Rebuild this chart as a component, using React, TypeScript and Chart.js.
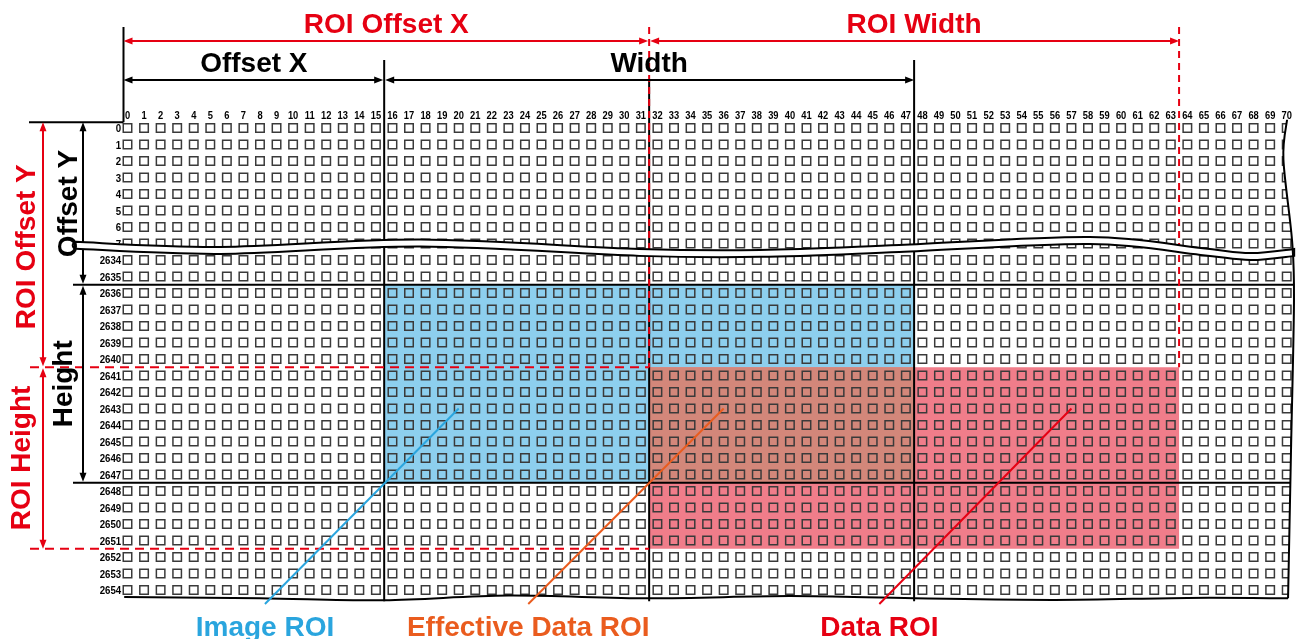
import React, { useEffect, useRef } from 'react';
import { Chart, registerables } from 'chart.js';

Chart.register(...registerables);

// ---- data ----
const columnLabels = [
  0, 1, 2, 3, 4, 5, 6, 7, 8, 9, 10, 11, 12, 13, 14, 15, 16, 17, 18, 19, 20,
  21, 22, 23, 24, 25, 26, 27, 28, 29, 30, 31, 32, 33, 34, 35, 36, 37, 38, 39,
  40, 41, 42, 43, 44, 45, 46, 47, 48, 49, 50, 51, 52, 53, 54, 55, 56, 57, 58,
  59, 60, 61, 62, 63, 64, 65, 66, 67, 68, 69, 70,
];
const rowLabels = [
  '0', '1', '2', '3', '4', '5', '6', '7',
  '2634', '2635', '2636', '2637', '2638', '2639', '2640', '2641', '2642',
  '2643', '2644', '2645', '2646', '2647', '2648', '2649', '2650', '2651',
  '2652', '2653', '2654',
];

const imageRoiCols = [16, 47];
const imageRoiRows = ['2636', '2647'];
const dataRoiCols = [32, 63];
const dataRoiRows = ['2641', '2651'];

const offsetXCols = [0, 15];
const widthCols = [16, 47];
const roiOffsetXCols = [0, 31];
const roiWidthCols = [32, 63];
const offsetYRows = ['0', '2635'];
const heightRows = ['2636', '2647'];
const roiOffsetYRows = ['0', '2640'];
const roiHeightRows = ['2641', '2651'];

const calloutLabels = ['Image ROI', 'Effective Data ROI', 'Data ROI'];
const calloutColors = ['#2aa5de', '#ea5c1e', '#e60012'];
const calloutAnchorCols = [20, 36, 57];
const calloutAnchorRow = '2643';
const calloutLabelCols = [8.3, 24.2, 45.4];

const RED = '#e60012';
const BIG_FONT = "bold 28px 'Liberation Sans', Arial, sans-serif";
const TICK_FONT = "bold 11px 'Liberation Sans', Arial, sans-serif";

// decorative break / torn edges (column units, row units)
const breakUpper = [
  [-3.1, 6.9], [5.6, 7.21], [17.7, 6.76], [30.9, 7.33], [38.2, 7.39],
  [46.6, 7.09], [58.1, 6.61], [64.8, 7.27], [67.8, 7.58], [70.45, 7.33],
];
const rightEdge = [
  [70.02, -0.5], [69.8, 1.9], [70.32, 6.8], [70.44, 10.4], [70.26, 19.5], [70.08, 28.5],
];
const bottomEdge = [
  [-0.2, 28.42], [8, 28.5], [15.5, 28.62], [23, 28.34], [31.5, 28.5],
  [40, 28.37], [47.5, 28.5], [56, 28.6], [64, 28.48], [70.08, 28.5],
];

function curve(ctx: CanvasRenderingContext2D, pts: { x: number; y: number }[], move = true) {
  if (move) ctx.moveTo(pts[0].x, pts[0].y);
  else ctx.lineTo(pts[0].x, pts[0].y);
  for (let i = 0; i < pts.length - 1; i++) {
    const p0 = pts[i - 1] || pts[i];
    const p1 = pts[i];
    const p2 = pts[i + 1];
    const p3 = pts[i + 2] || p2;
    ctx.bezierCurveTo(
      p1.x + (p2.x - p0.x) / 6, p1.y + (p2.y - p0.y) / 6,
      p2.x - (p3.x - p1.x) / 6, p2.y - (p3.y - p1.y) / 6,
      p2.x, p2.y,
    );
  }
}

function arrow(ctx: CanvasRenderingContext2D, x1: number, y1: number, x2: number, y2: number, color: string) {
  const len = 9;
  const hw = 3.5;
  const ang = Math.atan2(y2 - y1, x2 - x1);
  ctx.save();
  ctx.strokeStyle = color;
  ctx.fillStyle = color;
  ctx.lineWidth = 2;
  ctx.beginPath();
  ctx.moveTo(x1 + Math.cos(ang) * 4, y1 + Math.sin(ang) * 4);
  ctx.lineTo(x2 - Math.cos(ang) * 4, y2 - Math.sin(ang) * 4);
  ctx.stroke();
  const head = (x: number, y: number, a: number) => {
    ctx.beginPath();
    ctx.moveTo(x, y);
    ctx.lineTo(x - Math.cos(a) * len - Math.sin(a) * hw, y - Math.sin(a) * len + Math.cos(a) * hw);
    ctx.lineTo(x - Math.cos(a) * len + Math.sin(a) * hw, y - Math.sin(a) * len - Math.cos(a) * hw);
    ctx.closePath();
    ctx.fill();
  };
  head(x2, y2, ang);
  head(x1, y1, ang + Math.PI);
  ctx.restore();
}

function line(ctx: CanvasRenderingContext2D, x1: number, y1: number, x2: number, y2: number, color: string, w: number, dash: number[] = []) {
  ctx.save();
  ctx.strokeStyle = color;
  ctx.lineWidth = w;
  ctx.setLineDash(dash);
  ctx.beginPath();
  ctx.moveTo(x1, y1);
  ctx.lineTo(x2, y2);
  ctx.stroke();
  ctx.restore();
}

function vText(ctx: CanvasRenderingContext2D, text: string, baseX: number, cy: number, color: string) {
  ctx.save();
  ctx.translate(baseX, cy);
  ctx.rotate(-Math.PI / 2);
  ctx.font = BIG_FONT;
  ctx.fillStyle = color;
  ctx.textAlign = 'center';
  ctx.textBaseline = 'alphabetic';
  ctx.fillText(text, 0, 0);
  ctx.restore();
}

function hText(ctx: CanvasRenderingContext2D, text: string, cx: number, baseY: number, color: string) {
  ctx.save();
  ctx.font = BIG_FONT;
  ctx.fillStyle = color;
  ctx.textAlign = 'center';
  ctx.textBaseline = 'alphabetic';
  ctx.fillText(text, cx, baseY);
  ctx.restore();
}

function narrowText(ctx: CanvasRenderingContext2D, text: string, x: number, y: number, align: CanvasTextAlign, sx: number) {
  ctx.save();
  ctx.translate(x, y);
  ctx.scale(sx, 1);
  ctx.font = TICK_FONT;
  ctx.fillStyle = '#000';
  ctx.textAlign = align;
  ctx.textBaseline = 'alphabetic';
  ctx.fillText(text, 0, 0);
  ctx.restore();
}

const ri = (lab: string) => rowLabels.indexOf(lab);

const diagramPlugin = {
  id: 'roiDiagram',
  beforeDatasetsDraw(chart: any) {
    const ctx: CanvasRenderingContext2D = chart.ctx;
    const X = (c: number) => chart.scales.x.getPixelForValue(c);
    const Y = (r: number) => chart.scales.y.getPixelForValue(r);
    const rect = (cols: number[], r0: number, r1: number, color: string) => {
      const x0 = X(cols[0] - 0.5);
      const x1 = X(cols[1] + 0.5);
      const y0 = Y(r0 - 0.5);
      const y1 = Y(r1 + 0.5);
      ctx.fillStyle = color;
      ctx.fillRect(x0, y0, x1 - x0, y1 - y0);
    };
    ctx.save();
    rect(imageRoiCols, ri(imageRoiRows[0]), ri(imageRoiRows[1]), '#8dcfee');
    rect(dataRoiCols, ri(dataRoiRows[0]), ri(dataRoiRows[1]), '#f07d8a');
    rect([dataRoiCols[0], imageRoiCols[1]], ri(dataRoiRows[0]), ri(imageRoiRows[1]), '#d3877a');
    ctx.restore();
  },
  afterDatasetsDraw(chart: any) {
    const ctx: CanvasRenderingContext2D = chart.ctx;
    const X = (c: number) => chart.scales.x.getPixelForValue(c);
    const Y = (r: number) => chart.scales.y.getPixelForValue(r);
    const P = (a: number[]) => ({ x: X(a[0]), y: Y(a[1]) });
    const W = chart.width;
    const H = chart.height;
    const area = chart.chartArea;

    // tick labels (column numbers on top, row numbers on the left)
    columnLabels.forEach((c) => narrowText(ctx, String(c), X(c), area.top - 0.5, 'center', 0.85));
    rowLabels.forEach((lab, r) => narrowText(ctx, lab, area.left - 0.5, Y(r) + 4, 'right', 0.88));

    const leftEdge = X(offsetXCols[0]) - 4;
    const topEdge = Y(ri(offsetYRows[0])) - 5.8;
    const rightPts = rightEdge.map(P);
    const bottomPts = bottomEdge.map(P);

    // full-width horizontal separators
    const hTop = Y(ri(heightRows[0]) - 0.5);
    const hBot = Y(ri(heightRows[1]) + 0.5);
    line(ctx, 73, hTop, W, hTop, '#000', 2);
    line(ctx, 73, hBot, W, hBot, '#000', 2);

    // masks for torn edges
    ctx.save();
    ctx.fillStyle = '#fff';
    ctx.beginPath();
    curve(ctx, rightPts);
    ctx.lineTo(W, rightPts[rightPts.length - 1].y);
    ctx.lineTo(W, rightPts[0].y);
    ctx.closePath();
    ctx.fill();
    ctx.beginPath();
    curve(ctx, bottomPts);
    ctx.lineTo(W, bottomPts[bottomPts.length - 1].y);
    ctx.lineTo(W, H);
    ctx.lineTo(bottomPts[0].x, H);
    ctx.closePath();
    ctx.fill();
    ctx.restore();

    // vertical separators
    const xW0 = X(widthCols[0] - 0.5);
    const xW1 = X(widthCols[1] + 0.5);
    const xR0 = X(roiWidthCols[0] - 0.5);
    const xR1 = X(roiWidthCols[1] + 0.5);
    const gridBottom = Y(rowLabels.length - 0.5);
    line(ctx, xW0, 60, xW0, gridBottom + 3, '#000', 2);
    line(ctx, xW1, 60, xW1, gridBottom + 3, '#000', 2);
    line(ctx, xR0, 80, xR0, gridBottom + 3, '#000', 2);

    // red dashed guides
    const yR0 = Y(ri(roiHeightRows[0]) - 0.5);
    const yR1 = Y(ri(roiHeightRows[1]) + 0.5);
    line(ctx, xR0, 27, xR0, yR0, RED, 2, [7, 5]);
    line(ctx, xR1, 27, xR1, yR0, RED, 2, [7, 5]);
    line(ctx, 30, yR0, xR0, yR0, RED, 2, [9, 6]);
    line(ctx, 30, yR1, xR0, yR1, RED, 2, [9, 6]);

    // top-left bracket
    line(ctx, leftEdge, 27, leftEdge, topEdge, '#000', 2);
    line(ctx, 29, topEdge, leftEdge, topEdge, '#000', 2);

    // left arrows
    const yOff = Y(ri(offsetYRows[1]) + 0.5);
    arrow(ctx, 43, topEdge, 43, Y(ri(roiOffsetYRows[1]) + 0.5) - 1, RED);
    arrow(ctx, 43, yR0 + 1, 43, yR1, RED);
    arrow(ctx, 83, topEdge, 83, yOff - 1, '#000');
    arrow(ctx, 83, hTop + 1, 83, hBot - 1, '#000');

    // break band
    const up = breakUpper.map(P);
    const lo = breakUpper.map((a) => P([a[0], a[1] + 0.42])).reverse();
    ctx.save();
    ctx.beginPath();
    curve(ctx, up);
    curve(ctx, lo, false);
    const r = (lo[lo.length - 1].y - up[0].y) / 2;
    ctx.arc(up[0].x, up[0].y + r, r, Math.PI / 2, (3 * Math.PI) / 2);
    ctx.closePath();
    ctx.fillStyle = '#fff';
    ctx.fill();
    ctx.strokeStyle = '#000';
    ctx.lineWidth = 2;
    ctx.stroke();
    ctx.restore();

    // torn edges strokes
    ctx.save();
    ctx.strokeStyle = '#000';
    ctx.lineWidth = 2;
    ctx.beginPath();
    curve(ctx, rightPts);
    ctx.stroke();
    ctx.beginPath();
    curve(ctx, bottomPts);
    ctx.stroke();
    ctx.restore();

    // top arrows
    const xOff = X(offsetXCols[1] + 0.5);
    const xRoiOff = X(roiOffsetXCols[1] + 0.5);
    arrow(ctx, leftEdge, 41, xRoiOff - 1, 41, RED);
    arrow(ctx, xR0 + 1, 41, xR1, 41, RED);
    arrow(ctx, leftEdge, 80, xOff - 1, 80, '#000');
    arrow(ctx, xW0 + 1, 80, xW1, 80, '#000');

    // titles
    hText(ctx, 'ROI Offset X', (leftEdge + xRoiOff) / 2, 33, RED);
    hText(ctx, 'ROI Width', (xR0 + xR1) / 2, 33, RED);
    hText(ctx, 'Offset X', (leftEdge + xOff) / 2, 72, '#000');
    hText(ctx, 'Width', (xW0 + xW1) / 2, 72, '#000');
    vText(ctx, 'ROI Offset Y', 35, (topEdge + yR0) / 2 + 2, RED);
    vText(ctx, 'Offset Y', 77, (topEdge + yOff) / 2, '#000');
    vText(ctx, 'ROI Height', 30, (yR0 + yR1) / 2, RED);
    vText(ctx, 'Height', 72, (hTop + hBot) / 2, '#000');

    // callouts
    const ay = Y(ri(calloutAnchorRow));
    calloutLabels.forEach((lab, i) => {
      const lx = X(calloutLabelCols[i]);
      line(ctx, X(calloutAnchorCols[i]), ay, lx, 604, calloutColors[i], 2);
      hText(ctx, lab, lx, 636, calloutColors[i]);
    });
  },
};

export default function App() {
  const ref = useRef<HTMLCanvasElement>(null);
  useEffect(() => {
    if (!ref.current) return;
    const cells: { x: number; y: number }[] = [];
    rowLabels.forEach((_, r) => {
      columnLabels.forEach((c) => cells.push({ x: c, y: r }));
    });
    const chart = new Chart(ref.current, {
      type: 'scatter',
      data: {
        datasets: [
          {
            data: cells,
            pointStyle: 'rect',
            pointRadius: 6,
            pointHoverRadius: 6,
            borderColor: '#3a3a3a',
            borderWidth: 1.5,
            backgroundColor: 'rgba(0,0,0,0)',
          },
        ],
      },
      options: {
        animation: false,
        responsive: true,
        maintainAspectRatio: false,
        events: [],
        layout: { autoPadding: false, padding: { left: 121.7, top: 119.75, right: 2, bottom: 40.75 } },
        plugins: { legend: { display: false }, tooltip: { enabled: false } },
        scales: {
          x: { type: 'linear', display: false, min: -0.35, max: 70.5 },
          y: { type: 'linear', display: false, reverse: true, min: -0.5, max: 28.5 },
        },
      } as any,
      plugins: [diagramPlugin],
    });
    return () => chart.destroy();
  }, []);
  return (
    <div style={{ position: 'fixed', left: 0, top: 0, width: 1297, height: 639, background: '#fff' }}>
      <canvas ref={ref} />
    </div>
  );
}
